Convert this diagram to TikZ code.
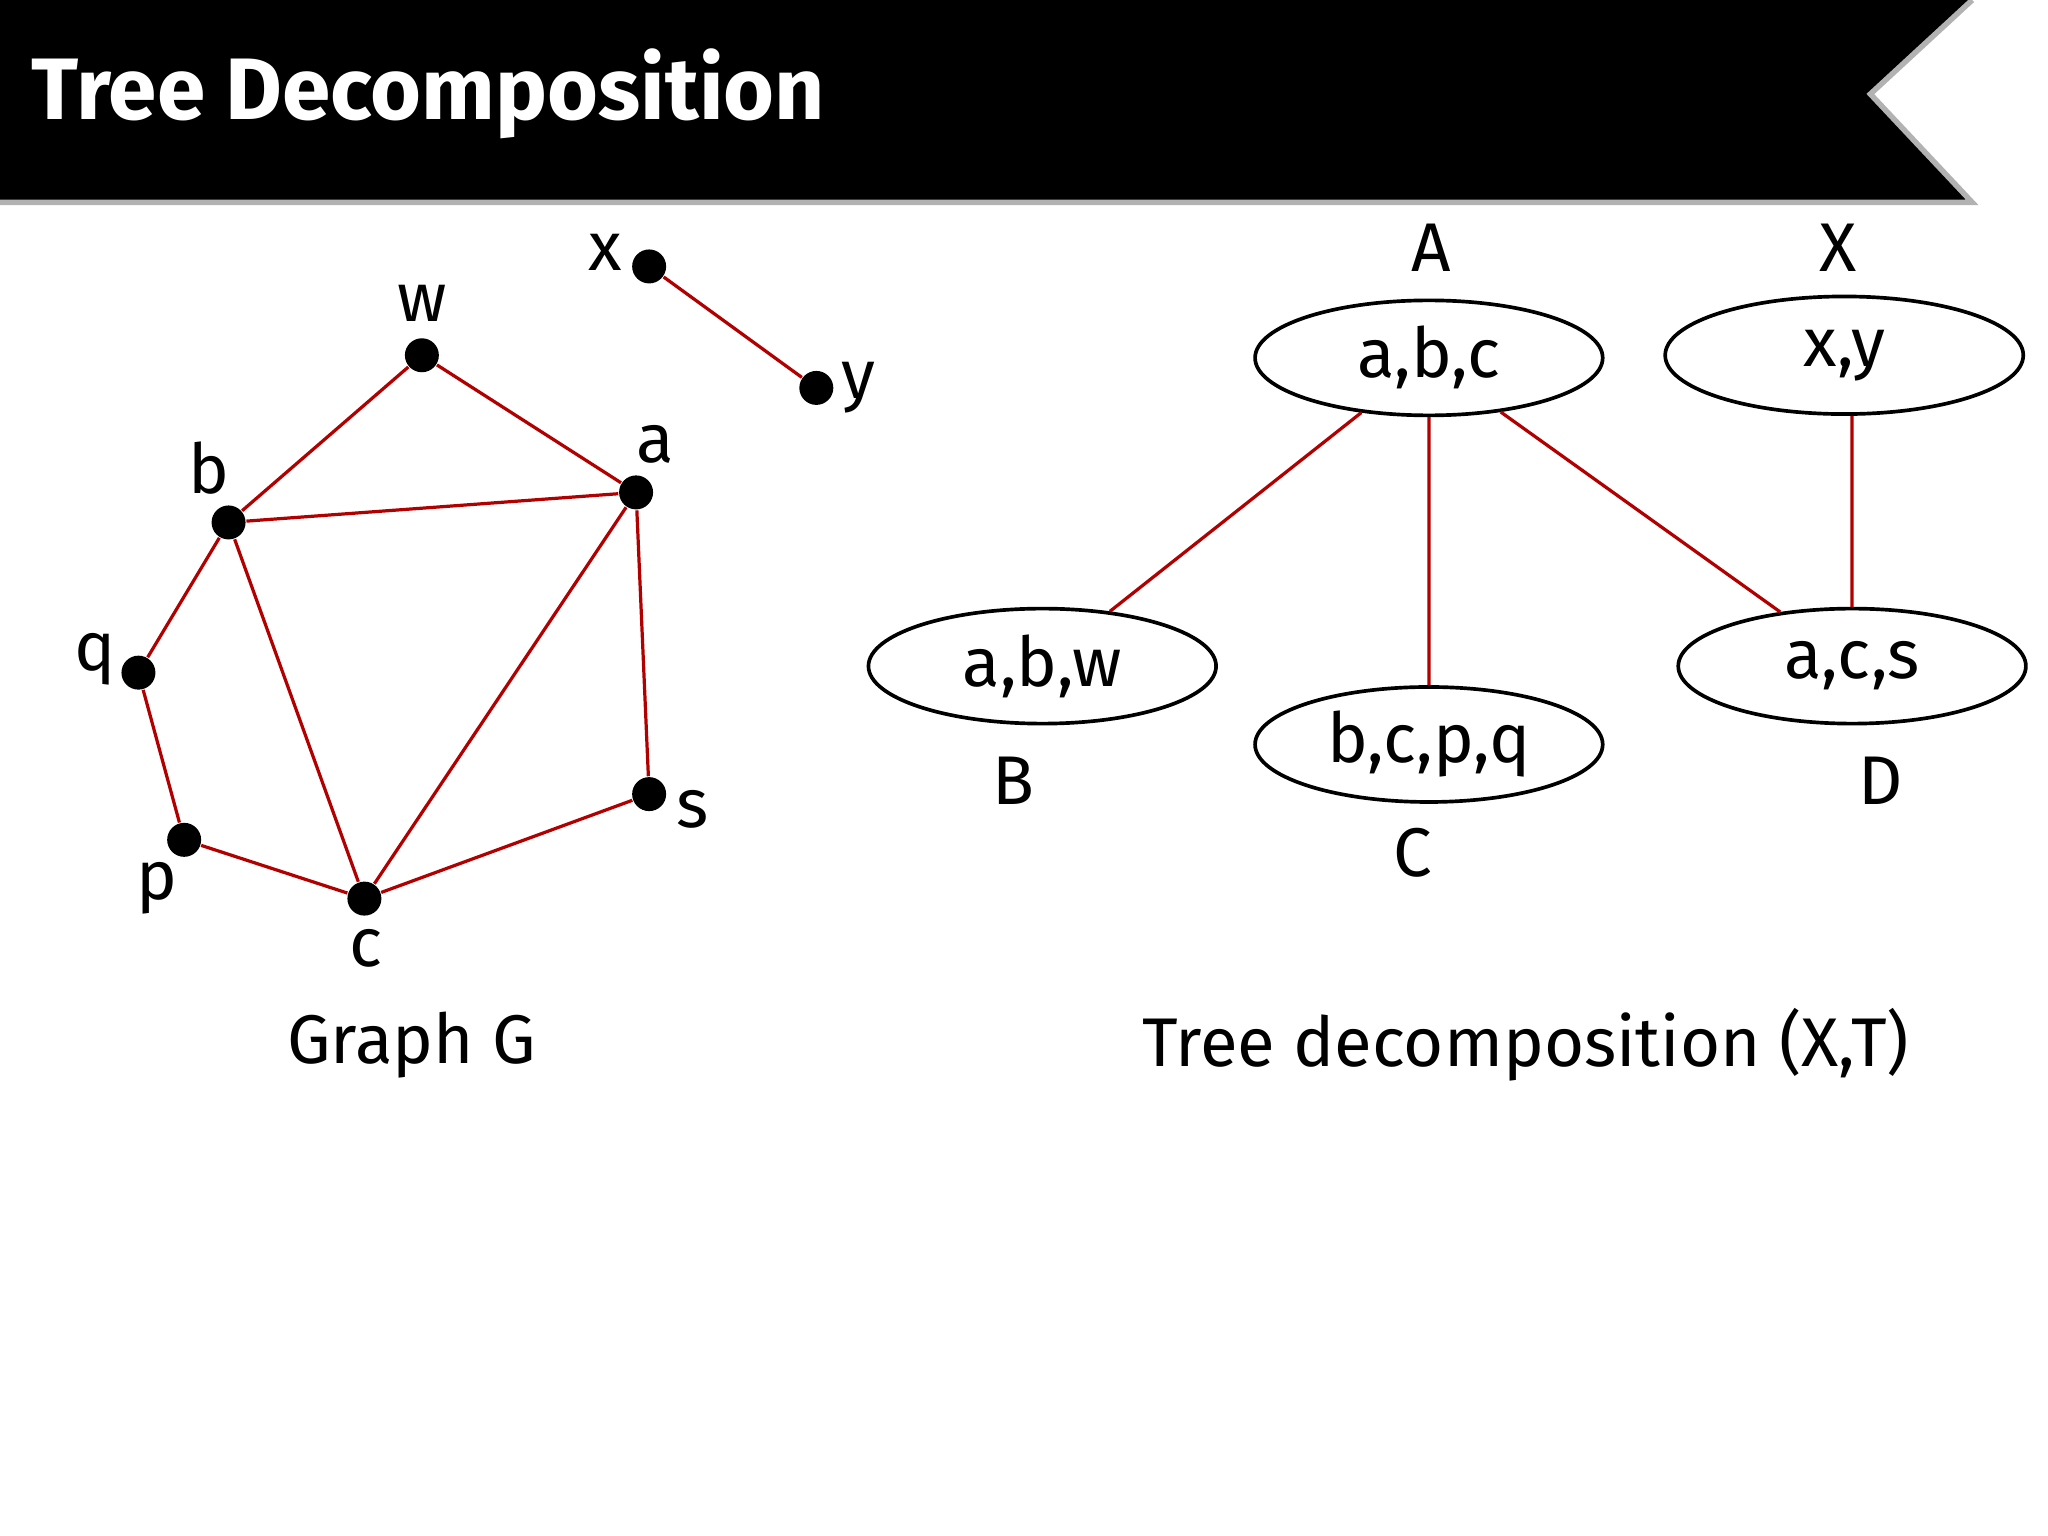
\documentclass[tikz,border=0pt]{standalone}
\usepackage{fontspec}
\setmainfont{Fira Sans}
\usetikzlibrary{positioning,shapes}

\begin{document}
\begin{tikzpicture}[
  x=0.01cm, y=-0.01cm,
  vertex/.style={circle,fill=black,inner sep=0pt,minimum size=0.26cm},
  vlabel/.style={font=\fontsize{15}{18}\selectfont},
  bag/.style={draw,ellipse,line width=0.8pt,inner sep=0pt,minimum width=2.66cm,minimum height=0.88cm,font=\fontsize{15}{18}\selectfont},
  tedge/.style={draw=red!70!black,line width=0.7pt},
]
\useasboundingbox (0,0) rectangle (1568,1176);

% banner
\fill[black] (0,0) -- (1510,0) -- (1432,72) -- (1510,155) -- (0,155) -- cycle;
\draw[gray!60,line width=1.2pt] (1510,0) -- (1432,72) -- (1510,155) -- (0,155);
\node[anchor=west,text=white,font=\fontsize{19}{23}\selectfont\bfseries] (title) at (12,72) {Tree Decomposition};

% graph G
\node[vertex] (w) at (323,272) {};
\node[vertex] (x) at (497,204) {};
\node[vertex] (y) at (625,297) {};
\node[vertex] (b) at (175,400) {};
\node[vertex] (a) at (487,377) {};
\node[vertex] (q) at (106,515) {};
\node[vertex] (p) at (141,643) {};
\node[vertex] (c) at (279,688) {};
\node[vertex] (s) at (497,608) {};

\node[vlabel] (lw) at (323,232) {w};
\node[vlabel] (lx) at (463,193) {x};
\node[vlabel] (ly) at (657,297) {y};
\node[vlabel] (lb) at (160,358) {b};
\node[vlabel] (la) at (502,340) {a};
\node[vlabel] (lq) at (73,505) {q};
\node[vlabel] (lp) at (120,680) {p};
\node[vlabel] (lc) at (280,726) {c};
\node[vlabel] (ls) at (530,620) {s};

\path[tedge] (w) -- (b) (w) -- (a) (b) -- (a) (b) -- (q) (b) -- (c)
  (a) -- (c) (a) -- (s) (q) -- (p) (p) -- (c) (c) -- (s) (x) -- (y);

\node[vlabel] (gg) at (315,800) {Graph G};

% tree decomposition
\node[bag] (abc) at (1094,274) {a,b,c};
\node[bag,minimum width=2.74cm,minimum height=0.9cm] (xy) at (1412,272) {x,y};
\node[bag] (abw) at (798,510) {a,b,w};
\node[bag] (bcpq) at (1094,570) {b,c,p,q};
\node[bag] (acs) at (1418,510) {a,c,s};

\node[vlabel] (nA) at (1096,190) {A};
\node[vlabel] (nX) at (1407,190) {X};
\node[vlabel] (nB) at (776,598) {B};
\node[vlabel] (nC) at (1082,653) {C};
\node[vlabel] (nD) at (1440,598) {D};

\path[tedge] (abc.219) -- (abw.39)
  (abc.south) -- (bcpq.north)
  (abc.323) -- (acs.143)
  (acs.north |- xy.south) -- (acs.north);

\node[vlabel] (td) at (1168,800) {Tree decomposition (X,T)};
\end{tikzpicture}
\end{document}
